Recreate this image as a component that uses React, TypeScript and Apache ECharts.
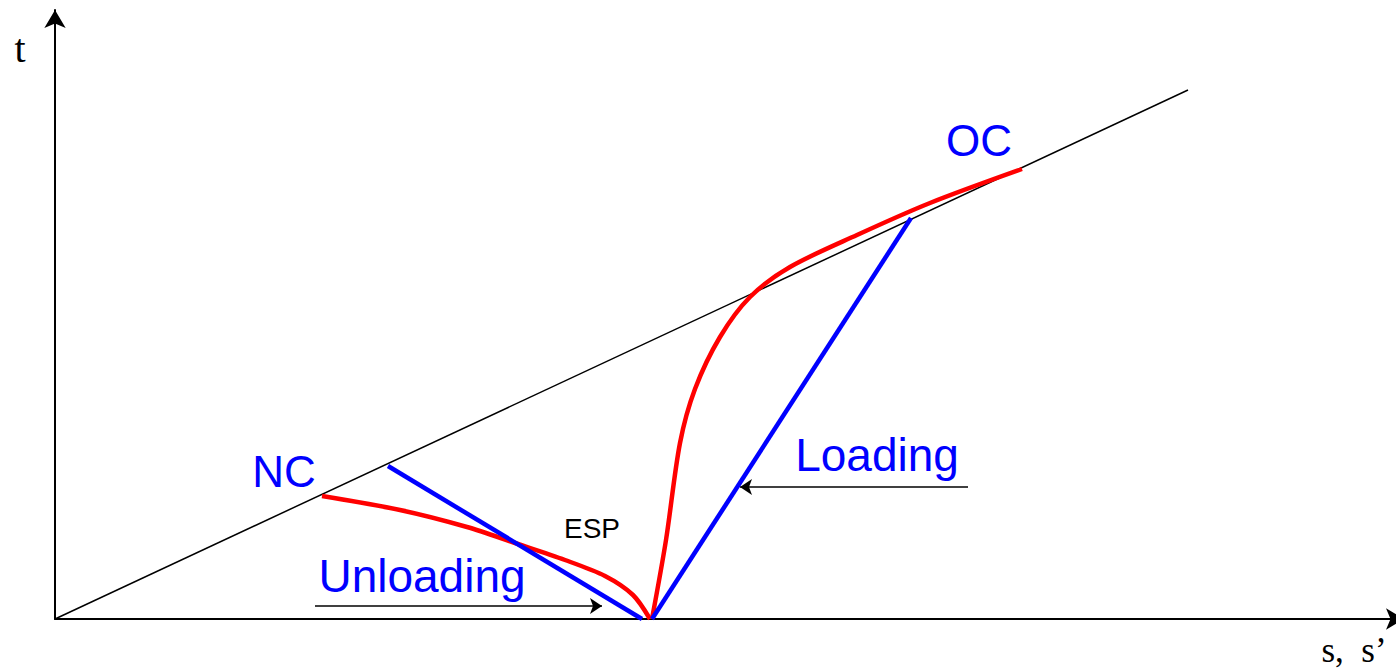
import React, { useEffect, useRef } from "react";
import * as echarts from "echarts";

// Units: arbitrary stress units, s (x) and t (y)
const xMax = 134.9;
const yMax = 60.9;

const ratioLine: [number, number][] = [
  [0, 0],
  [113.3, 52.9],
];

const ncCurve: [number, number][] = [
  [26.7, 12.3],
  [34.5, 10.9],
  [41.2, 9.2],
  [46.0, 7.6],
  [51.0, 5.9],
  [55.0, 4.3],
  [57.8, 2.4],
  [59.5, 0],
];

const ocCurve: [number, number][] = [
  [59.7, 0],
  [61.1, 7.9],
  [62.5, 17.6],
  [64.0, 23.0],
  [66.5, 28.2],
  [69.5, 32.2],
  [73.5, 35.2],
  [80.2, 38.4],
  [87.5, 41.6],
  [96.7, 45.0],
];

const unloadingLine: [number, number][] = [
  [33.3, 15.3],
  [58.7, 0],
];

const loadingLine: [number, number][] = [
  [59.7, 0],
  [85.6, 40.1],
];

const unloadingArrow: [number, number][] = [
  [26.0, 1.3],
  [54.7, 1.3],
];

const loadingArrow: [number, number][] = [
  [91.3, 13.2],
  [68.5, 13.2],
];

const SANS = "'Liberation Sans', Arial, sans-serif";
const SERIF = "'Liberation Serif', 'Times New Roman', serif";

export default function App() {
  const ref = useRef<HTMLDivElement>(null);

  useEffect(() => {
    if (!ref.current) return;
    const chart = echarts.init(ref.current, null, { renderer: "svg" });
    const blueText = (text: string, x: number, y: number, size: number) => ({
      type: "text",
      x,
      y,
      style: {
        text,
        fill: "#0000ff",
        font: `${size}px ${SANS}`,
        textAlign: "center",
        textVerticalAlign: "middle",
      },
    });
    chart.setOption({
      animation: false,
      backgroundColor: "#ffffff",
      grid: { left: 55, right: 0, top: 10, bottom: 49 },
      xAxis: {
        type: "value",
        min: 0,
        max: xMax,
        splitLine: { show: false },
        axisTick: { show: false },
        axisLabel: { show: false },
        axisLine: {
          show: true,
          symbol: ["none", "arrow"],
          symbolSize: [16, 18],
          lineStyle: { color: "#000", width: 2 },
        },
      },
      yAxis: {
        type: "value",
        min: 0,
        max: yMax,
        splitLine: { show: false },
        axisTick: { show: false },
        axisLabel: { show: false },
        axisLine: {
          show: true,
          symbol: ["none", "arrow"],
          symbolSize: [16, 18],
          lineStyle: { color: "#000", width: 2 },
        },
      },
      series: [
        {
          type: "line",
          data: ratioLine,
          symbol: "none",
          lineStyle: { color: "#000", width: 1.5 },
          silent: true,
        },
        {
          type: "line",
          data: ncCurve,
          symbol: "none",
          smooth: 0.3,
          lineStyle: { color: "#ff0000", width: 4.5 },
          silent: true,
        },
        {
          type: "line",
          data: ocCurve,
          symbol: "none",
          smooth: 0.3,
          lineStyle: { color: "#ff0000", width: 4.5 },
          silent: true,
        },
        {
          type: "line",
          data: unloadingLine,
          symbol: "none",
          lineStyle: { color: "#0000ff", width: 4.5 },
          silent: true,
        },
        {
          type: "line",
          data: loadingLine,
          symbol: "none",
          lineStyle: { color: "#0000ff", width: 4.5 },
          silent: true,
        },
        {
          type: "lines",
          coordinateSystem: "cartesian2d",
          symbol: ["none", "arrow"],
          symbolSize: 12,
          lineStyle: { color: "#000", width: 1.5, opacity: 1 },
          data: [{ coords: unloadingArrow }, { coords: loadingArrow }],
          silent: true,
        },
      ],
      graphic: [
        blueText("NC", 284, 471, 44),
        blueText("OC", 979, 140, 44),
        blueText("Loading", 877, 455, 46),
        blueText("Unloading", 422, 576, 46),
        {
          type: "text",
          x: 592,
          y: 528,
          style: {
            text: "ESP",
            fill: "#000",
            font: `28px ${SANS}`,
            textAlign: "center",
            textVerticalAlign: "middle",
          },
        },
        {
          type: "text",
          x: 20,
          y: 48,
          style: {
            text: "t",
            fill: "#000",
            font: `40px ${SERIF}`,
            textAlign: "center",
            textVerticalAlign: "middle",
          },
        },
        {
          type: "text",
          x: 1354,
          y: 650,
          style: {
            text: "s,  s\u2019",
            fill: "#000",
            font: `35px ${SERIF}`,
            textAlign: "center",
            textVerticalAlign: "middle",
          },
        },
      ],
    });
    return () => chart.dispose();
  }, []);

  return (
    <div
      ref={ref}
      style={{ position: "fixed", left: 0, top: 0, width: 1404, height: 668 }}
    />
  );
}
